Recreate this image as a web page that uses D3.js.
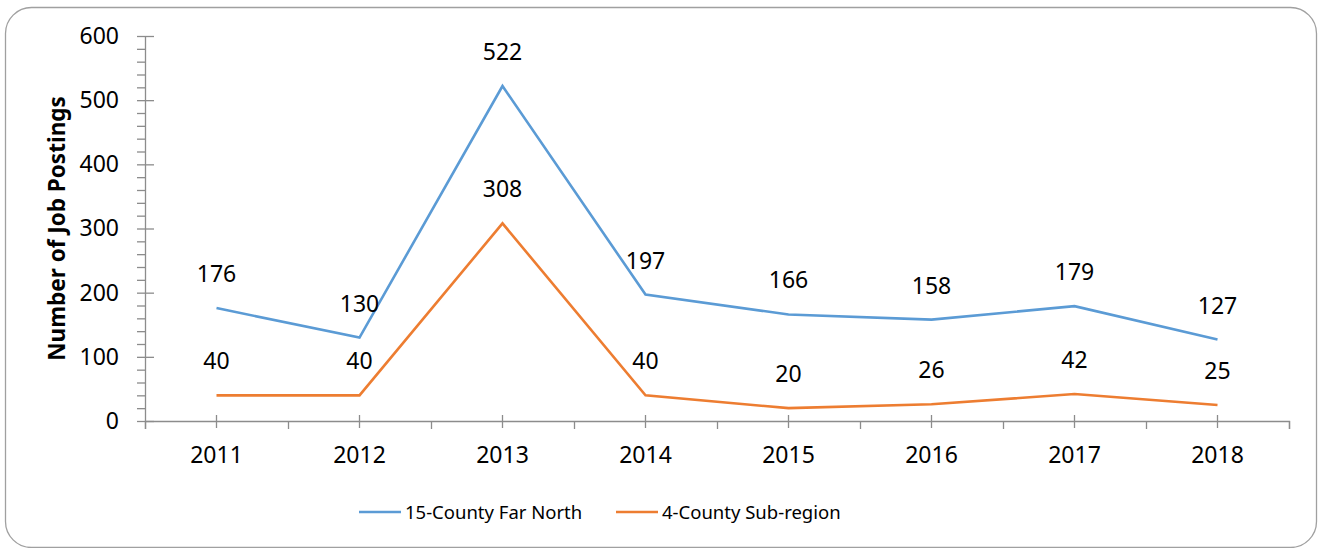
<!DOCTYPE html>
<html>
<head>
<meta charset="utf-8">
<script src="https://cdn.jsdelivr.net/npm/d3@7"></script>
<style>
  body { margin: 0; background: #fff; }
  svg text { font-family: "Noto Sans", sans-serif; fill: #000; }
</style>
</head>
<body>
<svg class="chart"></svg>
<script>
var years = ["2011", "2012", "2013", "2014", "2015", "2016", "2017", "2018"];
var farNorth = [176, 130, 522, 197, 166, 158, 179, 127];
var subRegion = [40, 40, 308, 40, 20, 26, 42, 25];
var seriesNames = ["15-County Far North", "4-County Sub-region"];
var seriesColors = ["#5B9BD5", "#ED7D31"];
var yTicks = [0, 100, 200, 300, 400, 500, 600];

var width = 1319;
var height = 548;
var plotLeft = 145, plotRight = 1289, plotTop = 36, plotBottom = 421;
var axisColor = "#8c8c8c";

var svg = d3.select(".chart").attr("width", width).attr("height", height);

// outer frame
svg.append("rect")
  .attr("x", 5.5).attr("y", 7.5)
  .attr("width", 1311).attr("height", 540)
  .attr("rx", 26).attr("ry", 26)
  .attr("fill", "#fff")
  .attr("stroke", "#a0a0a0")
  .attr("stroke-width", 1.3);

var x = d3.scaleBand().domain(years).range([plotLeft, plotRight]).padding(0);
var xEdge = d3.scaleLinear().domain([0, years.length]).range([plotLeft, plotRight]);
var y = d3.scaleLinear().domain([0, 600]).range([plotBottom, plotTop]);

function px(d, i) { return x(years[i]) + x.bandwidth() / 2; }

// minor y ticks
svg.append("g")
  .attr("transform", "translate(" + plotLeft + ",0)")
  .call(d3.axisLeft(y).tickValues(d3.range(0, 601, 20)).tickSize(8).tickFormat(""))
  .call(function(g) {
    g.select(".domain").remove();
    g.selectAll("line").attr("stroke", axisColor).attr("stroke-width", 1.3);
  });

// major y ticks + labels
svg.append("g")
  .attr("transform", "translate(" + plotLeft + ",0)")
  .call(d3.axisLeft(y).tickValues(yTicks).tickSize(8).tickSizeOuter(0).tickPadding(18))
  .call(function(g) {
    g.select(".domain").attr("stroke", axisColor).attr("stroke-width", 1.3);
    g.selectAll(".tick line").attr("x2", 9).attr("stroke", axisColor).attr("stroke-width", 1.3);
    g.selectAll(".tick text").attr("font-size", 23).attr("font-family", "Noto Sans").attr("fill", "#000");
  });

// x boundary ticks
svg.append("g")
  .attr("transform", "translate(0," + plotBottom + ")")
  .call(d3.axisBottom(xEdge).tickValues(d3.range(0, years.length + 1)).tickSize(8).tickFormat(""))
  .call(function(g) {
    g.select(".domain").attr("stroke", axisColor).attr("stroke-width", 1.3);
    g.selectAll(".tick line").attr("stroke", axisColor).attr("stroke-width", 1.3);
  });

// x category ticks + labels
svg.append("g")
  .attr("transform", "translate(0," + plotBottom + ")")
  .call(d3.axisBottom(x).tickSize(7).tickPadding(19))
  .call(function(g) {
    g.select(".domain").remove();
    g.selectAll(".tick line").attr("y1", -6).attr("stroke", axisColor).attr("stroke-width", 1.3);
    g.selectAll(".tick text").attr("font-size", 23).attr("font-family", "Noto Sans").attr("fill", "#000");
  });

// y axis title
svg.append("text")
  .attr("transform", "translate(65," + ((plotTop + plotBottom) / 2) + ") rotate(-90)")
  .attr("text-anchor", "middle")
  .attr("font-size", 22.5)
  .attr("font-weight", "bold")
  .text("Number of Job Postings");

var line = d3.line().x(px).y(function(d) { return y(d); });

[farNorth, subRegion].forEach(function(vals, s) {
  svg.append("path")
    .attr("d", line(vals))
    .attr("fill", "none")
    .attr("stroke", seriesColors[s])
    .attr("stroke-width", 2.6)
    .attr("stroke-linejoin", "miter");

  svg.selectAll(null)
    .data(vals)
    .enter().append("text")
    .attr("x", px)
    .attr("y", function(d) { return y(d) - 26; })
    .attr("text-anchor", "middle")
    .attr("font-size", 23)
    .text(function(d) { return d; });
});

// legend
var legendX = [359, 616];
seriesNames.forEach(function(name, s) {
  svg.append("line")
    .attr("x1", legendX[s]).attr("x2", legendX[s] + 42)
    .attr("y1", 512).attr("y2", 512)
    .attr("stroke", seriesColors[s])
    .attr("stroke-width", 2.6);
  svg.append("text")
    .attr("x", legendX[s] + 46)
    .attr("y", 519)
    .attr("font-size", 18.5)
    .text(name);
});
</script>
</body>
</html>
